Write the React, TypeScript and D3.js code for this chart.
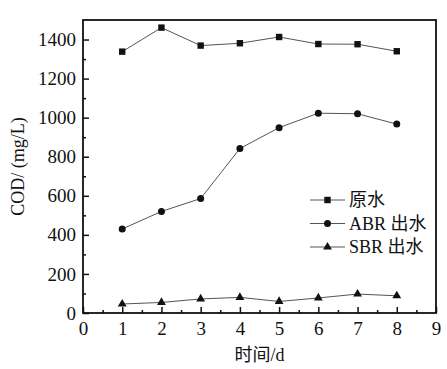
import React, { useRef, useEffect } from 'react';
import * as d3 from 'd3';

const days = [1, 2, 3, 4, 5, 6, 7, 8];
const rawWater = [1338, 1461, 1369, 1381, 1413, 1377, 1376, 1340];
const abrOut = [430, 520, 586, 842, 949, 1023, 1020, 967];
const sbrOut = [46, 54, 72, 80, 59, 77, 97, 88];
const xTicks = [0, 1, 2, 3, 4, 5, 6, 7, 8, 9];
const yTicks = [0, 200, 400, 600, 800, 1000, 1200, 1400];
const seriesNames = ['原水', 'ABR 出水', 'SBR 出水'];

const W = 447;
const H = 369;
const FONT = '"Liberation Serif", "Times New Roman", "Noto Sans CJK SC", serif';

const App = () => {
  const svgRef = useRef<SVGSVGElement>(null);

  useEffect(() => {
    const svg = d3.select(svgRef.current);
    svg.selectAll('*').remove();

    const margin = { top: 20, right: 11, bottom: 56, left: 83 };
    const width = W - margin.left - margin.right;
    const height = H - margin.top - margin.bottom;

    const x = d3.scaleLinear().domain([0, 9]).range([0, width]);
    const y = d3.scaleLinear().domain([0, 1500]).range([height, 0]);

    const g = svg.append('g').attr('transform', `translate(${margin.left},${margin.top})`);

    // inward ticks, major and minor
    const xAxis = g.append('g').attr('transform', `translate(0,${height})`)
      .call(d3.axisBottom(x).tickValues(xTicks).tickSize(-6).tickPadding(9).tickFormat(d3.format('d')));
    g.append('g').attr('transform', `translate(0,${height})`)
      .call(d3.axisBottom(x).tickValues(d3.range(0.5, 9, 1)).tickSize(-3).tickFormat(() => ''))
      .select('.domain').remove();
    const yAxis = g.append('g')
      .call(d3.axisLeft(y).tickValues(yTicks).tickSize(-6).tickPadding(7).tickFormat(d3.format('d')));
    g.append('g')
      .call(d3.axisLeft(y).tickValues(d3.range(100, 1500, 200)).tickSize(-3).tickFormat(() => ''))
      .select('.domain').remove();

    g.selectAll('.tick line').attr('stroke', '#111').attr('stroke-width', 1.5);
    [xAxis, yAxis].forEach(a => {
      a.select('.domain').remove();
      a.selectAll('text').attr('font-family', FONT).attr('font-size', 19).attr('fill', '#111');
    });

    // frame
    g.append('rect').attr('width', width).attr('height', height)
      .attr('fill', 'none').attr('stroke', '#111').attr('stroke-width', 1.8);

    const line = d3.line<number>().x((d, i) => x(days[i])).y(d => y(d));
    const all = [rawWater, abrOut, sbrOut];

    const drawMarker = (sel: any, k: number, cx: number, cy: number) => {
      if (k === 0) {
        sel.append('rect').attr('x', cx - 3.2).attr('y', cy - 3.2).attr('width', 6.4).attr('height', 6.4).attr('fill', '#111');
      } else if (k === 1) {
        sel.append('circle').attr('cx', cx).attr('cy', cy).attr('r', 3.5).attr('fill', '#111');
      } else {
        const s = d3.symbol().type(d3.symbolTriangle).size(34);
        sel.append('path').attr('d', s()).attr('transform', `translate(${cx},${cy})`).attr('fill', '#111');
      }
    };

    all.forEach((vals, k) => {
      g.append('path').datum(vals).attr('d', line).attr('fill', 'none')
        .attr('stroke', '#555').attr('stroke-width', 1);
      vals.forEach((v, i) => drawMarker(g, k, x(days[i]), y(v)));
    });

    // legend
    const lg = svg.append('g');
    seriesNames.forEach((name, k) => {
      const ly = 200 + k * 23.5;
      lg.append('line').attr('x1', 310).attr('x2', 345).attr('y1', ly).attr('y2', ly)
        .attr('stroke', '#555').attr('stroke-width', 1);
      drawMarker(lg, k, 327.5, ly);
      lg.append('text').attr('x', 349).attr('y', ly).attr('dy', '0.35em')
        .attr('font-family', FONT).attr('font-size', 18).attr('fill', '#111').text(name);
    });

    // axis titles
    svg.append('text').attr('x', margin.left + x(4.5)).attr('y', 361)
      .attr('text-anchor', 'middle').attr('font-family', FONT).attr('font-size', 18).attr('fill', '#111')
      .text('时间/d');
    svg.append('text').attr('transform', `translate(24,${margin.top + y(750)}) rotate(-90)`)
      .attr('text-anchor', 'middle').attr('font-family', FONT).attr('font-size', 18).attr('fill', '#111')
      .text('COD/ (mg/L)');
  }, []);

  return <svg ref={svgRef} width={W} height={H} style={{ position: 'absolute', left: 0, top: 0, background: '#fff' }} />;
};

export default App;
